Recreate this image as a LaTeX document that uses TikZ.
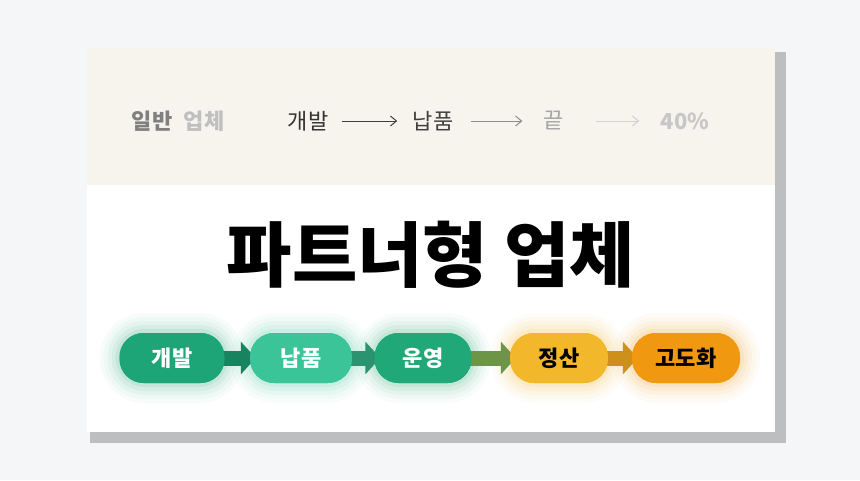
\documentclass[tikz,border=0pt]{standalone}
\usepackage{fontspec}
\setmainfont{Noto Sans CJK KR}
\usetikzlibrary{arrows.meta}
\definecolor{bg}{HTML}{F5F6F8}
\definecolor{band}{HTML}{F7F4EE}
\definecolor{shad}{HTML}{BDBEC0}
\definecolor{gA}{HTML}{1EA577}
\definecolor{gB}{HTML}{3BC497}
\definecolor{gC}{HTML}{20A878}
\definecolor{yD}{HTML}{F2B72A}
\definecolor{oE}{HTML}{F0980F}
\tikzset{
 pill/.style={rounded corners=24pt,minimum height=50pt,inner sep=0pt,font=\fontsize{22}{22}\selectfont\bfseries},
 barr/.style={line width=15pt,-{Triangle[length=15pt,width=32pt]},shorten >=-6pt,shorten <=-2pt},
 top/.style={font=\fontsize{22}{22}\selectfont},
 tarr/.style={-{Straight Barb[length=6pt,width=10pt]},line width=1pt}
}
\begin{document}
\begin{tikzpicture}[x=1pt,y=-1pt]
\useasboundingbox (0,0) rectangle (860,480);
\fill[bg] (0,0) rectangle (860,480);
\fill[shad] (90,52) rectangle (786,443);
\fill[white] (87,48) rectangle (775,432);
\fill[band] (87,48) rectangle (775,185);
% top row
\node[top,font=\fontsize{22}{22}\selectfont\bfseries,text=black!50] (t0) at (152,121) {일반};
\node[top,font=\fontsize{22}{22}\selectfont\bfseries,text=black!25] (t0b) at (204,121) {업체};
\node[top,text=black!80] (t1) at (308,121) {개발};
\node[top,text=black!75] (t2) at (433,121) {납품};
\node[top,text=black!35] (t3) at (554,121) {끝};
\node[top,font=\fontsize{22}{22}\selectfont\bfseries,text=black!22] (t4) at (685,121) {40\%};
\draw[tarr,black!75,shorten <=10pt,shorten >=12pt] (t1) -- (t2);
\draw[tarr,black!45,shorten <=14pt,shorten >=18pt] (t2) -- (t3);
\draw[tarr,black!18,shorten <=28pt,shorten >=18pt] (t3) -- (t4);
% title
\node[font=\fontsize{71}{71}\selectfont\bfseries] (title) at (431,255) {파트너형 업체};
% glows
\foreach \x/\w/\c in {172/105/gA,301/102/gB,423/97/gC,559/98/yD,686/108/oE}{
  \foreach \s/\o in {20/0.03,16/0.04,12/0.05,8/0.07,4/0.09}{
    \fill[\c,opacity=\o,rounded corners=25pt+\s] (\x-\w/2-\s,358-25-\s) rectangle (\x+\w/2+\s,358+25+\s);
  }
}
% pills (nodes)
\node[pill,fill=gA,text=white,minimum width=105pt] (p1) at (172,358) {개발};
\node[pill,fill=gB,text=white,minimum width=102pt] (p2) at (301,358) {납품};
\node[pill,fill=gC,text=white,minimum width=97pt] (p3) at (423,358) {운영};
\node[pill,fill=yD,text=black,minimum width=98pt] (p4) at (559,358) {정산};
\node[pill,fill=oE,text=black,minimum width=108pt] (p5) at (686,358) {고도화};
% block arrows
\draw[barr,color=gA!80!black] (p1) -- (p2);
\draw[barr,color=gB!75!black] (p2) -- (p3);
\draw[barr,color=gC!55!yD!85!black] (p3) -- (p4);
\draw[barr,color=yD!60!oE!85!black] (p4) -- (p5);
% redraw pills on top
\node[pill,fill=gA,text=white,minimum width=105pt] at (p1) {개발};
\node[pill,fill=gB,text=white,minimum width=102pt] at (p2) {납품};
\node[pill,fill=gC,text=white,minimum width=97pt] at (p3) {운영};
\node[pill,fill=yD,text=black,minimum width=98pt] at (p4) {정산};
\node[pill,fill=oE,text=black,minimum width=108pt] at (p5) {고도화};
\end{tikzpicture}
\end{document}
